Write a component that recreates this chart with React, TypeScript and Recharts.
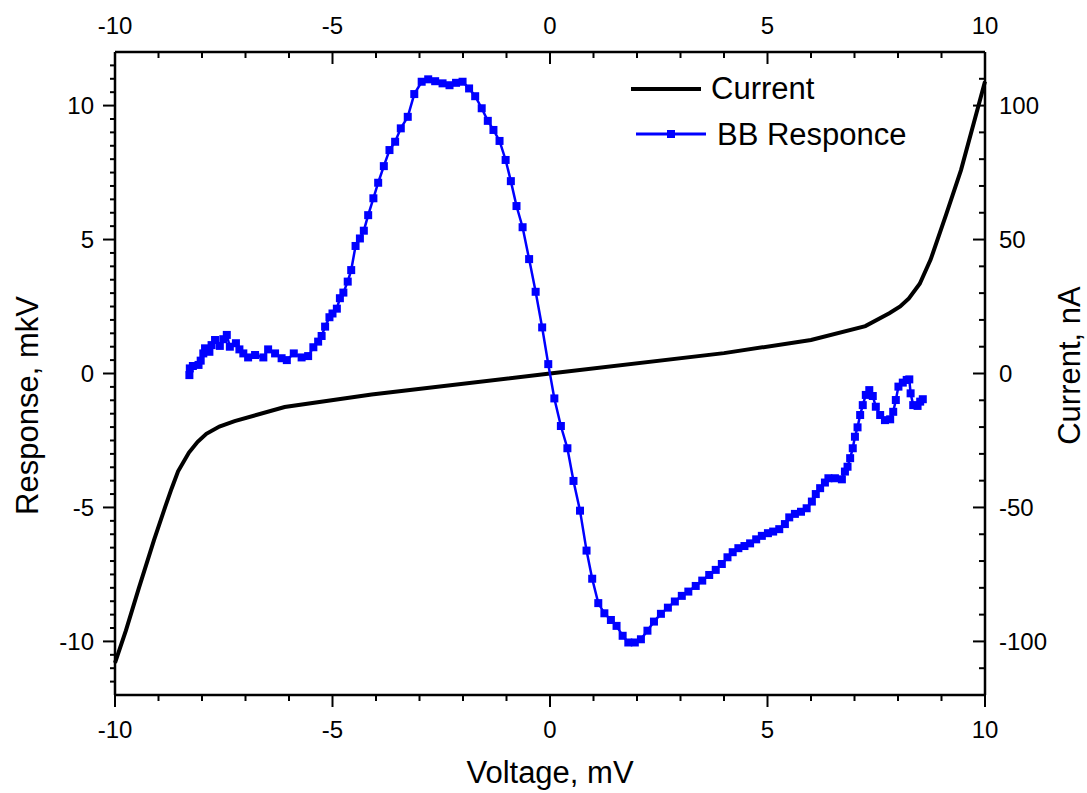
import React from 'react';
import { LineChart, Line, XAxis, YAxis, Legend } from 'recharts';

const FONT = '"Liberation Sans", Arial, Helvetica, sans-serif';
const BLUE = '#0000ff';

// Current (right axis, nA) vs voltage
const currentVoltage = [-10, -9.75, -9.45, -9.1, -8.85, -8.7, -8.55, -8.3, -8.1, -7.9, -7.6, -7.25, -6.1, -4.1, 0, 4.0, 6.0, 7.25, 7.8, 8.05, 8.25, 8.5, 8.75, 9.1, 9.45, 9.75, 10];
const currentValues = [-108, -96, -80, -62, -50, -43, -36.5, -29.5, -25.5, -22.5, -19.8, -17.8, -12.5, -7.8, 0, 7.6, 12.5, 17.7, 22.5, 25, 28, 33.5, 42.5, 59, 76, 94, 109];

// BB response (left axis, mkV) vs voltage
const responseVoltage = [
  -8.29, -8.28, -8.21, -8.08, -8.03, -7.97, -7.93, -7.83, -7.78, -7.7, -7.59, -7.51, -7.43, -7.36, -7.22, -7.14,
  -7.05, -6.94, -6.78, -6.59, -6.48, -6.32, -6.17, -6.05, -5.89, -5.71, -5.56, -5.44, -5.33, -5.25, -5.17, -5.07,
  -5.0, -4.9, -4.83, -4.75, -4.65, -4.57, -4.47, -4.37, -4.28, -4.18, -4.06, -3.95, -3.82, -3.69, -3.56, -3.43,
  -3.27, -3.12, -2.95, -2.8, -2.64, -2.47, -2.31, -2.16, -2.01, -1.86, -1.72, -1.57, -1.43, -1.3, -1.16, -1.02,
  -0.9, -0.77, -0.63, -0.48, -0.33, -0.18, -0.04, 0.1, 0.25, 0.4, 0.54, 0.69, 0.84, 0.97, 1.11, 1.25,
  1.4, 1.53, 1.67, 1.8, 1.95, 2.09, 2.24, 2.39, 2.55, 2.71, 2.87, 3.03, 3.18, 3.35, 3.5, 3.66,
  3.81, 3.95, 4.08, 4.2, 4.33, 4.47, 4.6, 4.74, 4.87, 5.01, 5.13, 5.27, 5.4, 5.5, 5.63, 5.77,
  5.9, 6.02, 6.11, 6.21, 6.32, 6.4, 6.55, 6.71, 6.78, 6.84, 6.9, 6.96, 7.01, 7.07, 7.13, 7.19,
  7.26, 7.34, 7.42, 7.49, 7.59, 7.7, 7.82, 7.89, 7.95, 8.01, 8.11, 8.2, 8.26, 8.29, 8.35, 8.45,
  8.51, 8.57,
];
const responseValues = [
  -0.06, 0.19, 0.28, 0.32, 0.48, 0.75, 0.94, 0.81, 1.06, 1.25, 1.03, 1.28, 1.44, 1.0, 1.13, 0.9,
  0.75, 0.6, 0.69, 0.6, 0.9, 0.75, 0.57, 0.5, 0.75, 0.6, 0.65, 0.98, 1.19, 1.4, 1.75, 2.1,
  2.24, 2.42, 2.81, 3.02, 3.43, 3.86, 4.76, 5.04, 5.33, 5.91, 6.54, 7.12, 7.74, 8.34, 8.65, 9.15,
  9.58, 10.43, 10.89, 10.98, 10.91, 10.83, 10.76, 10.85, 10.89, 10.64, 10.35, 9.9, 9.43, 9.09, 8.68, 7.97,
  7.18, 6.25, 5.46, 4.27, 3.05, 1.72, 0.35, -0.93, -1.96, -2.79, -4.01, -5.12, -6.61, -7.66, -8.57, -8.95,
  -9.2, -9.42, -9.79, -10.04, -10.04, -9.92, -9.6, -9.26, -8.97, -8.74, -8.51, -8.3, -8.14, -7.93, -7.73, -7.52,
  -7.33, -7.11, -6.86, -6.67, -6.52, -6.44, -6.34, -6.19, -6.06, -5.96, -5.9, -5.81, -5.62, -5.37, -5.24, -5.16,
  -5.03, -4.78, -4.5, -4.28, -4.07, -3.91, -3.91, -3.95, -3.66, -3.48, -3.16, -2.79, -2.36, -2.01, -1.55, -1.18,
  -0.8, -0.62, -0.84, -1.24, -1.55, -1.74, -1.71, -1.43, -0.99, -0.49, -0.34, -0.24, -0.22, -0.74, -1.18, -1.21,
  -1.05, -0.96,
];

// labelled (major) ticks
const voltageLabels = [-10, -5, 0, 5, 10];
const responseLabels = [-10, -5, 0, 5, 10];
const currentLabels = [-100, -50, 0, 50, 100];

const steps = (from: number, to: number, step: number) => {
  const out: number[] = [];
  for (let v = from; v <= to + 1e-9; v += step) out.push(Math.round(v * 100) / 100);
  return out;
};

const voltageTicks = steps(-10, 10, 1);
const responseTicks = steps(-11.5, 11.5, 0.5);
const currentTicks = steps(-110, 110, 10);

const currentData = currentVoltage.map((v, i) => ({ v, i: currentValues[i] }));
const responseData = responseVoltage.map((v, i) => ({ v, r: responseValues[i] }));

type Side = 'top' | 'bottom' | 'left' | 'right';

function makeTick(side: Side, labels: number[]) {
  return (props: any) => {
    const { x, y, payload } = props;
    const val = payload.value;
    const major = labels.some((t) => Math.abs(t - val) < 1e-6);
    const len = major ? 12 : 6;
    const txt = { fontFamily: FONT, fontSize: 24, fill: '#000' };
    let tick: React.ReactNode;
    let label: React.ReactNode = null;
    if (side === 'bottom') {
      tick = <line x1={x} x2={x} y1={y} y2={y + len} stroke="#000" strokeWidth={2} />;
      if (major) label = <text x={x} y={y + 43} textAnchor="middle" {...txt}>{val}</text>;
    } else if (side === 'top') {
      tick = <line x1={x} x2={x} y1={y} y2={y + len} stroke="#000" strokeWidth={2} />;
      if (major) label = <text x={x} y={y - 18} textAnchor="middle" {...txt}>{val}</text>;
    } else if (side === 'left') {
      tick = <line x1={x - (major ? 12 : 5)} x2={x} y1={y} y2={y} stroke="#000" strokeWidth={2} />;
      if (major) label = <text x={x - 21} y={y + 8.5} textAnchor="end" {...txt}>{val}</text>;
    } else {
      tick = <line x1={x - len} x2={x} y1={y} y2={y} stroke="#000" strokeWidth={2} />;
      if (major) label = <text x={x + 14} y={y + 8.5} textAnchor="start" {...txt}>{val}</text>;
    }
    return (
      <g>
        {tick}
        {label}
      </g>
    );
  };
}

const renderSquare = (props: any) => {
  const { cx, cy, index } = props;
  return <rect key={`sq-${index}`} x={cx - 4} y={cy - 4} width={8} height={8} fill={BLUE} />;
};

const renderLegend = () => (
  <svg width={340} height={100} style={{ display: 'block' }}>
    <line x1={31} x2={101} y1={29} y2={29} stroke="#000" strokeWidth={4} />
    <text x={111} y={39} fontFamily={FONT} fontSize={31} fill="#000">Current</text>
    <line x1={36} x2={106} y1={74} y2={74} stroke={BLUE} strokeWidth={3} />
    <rect x={67} y={70} width={8} height={8} fill={BLUE} />
    <text x={117} y={85} fontFamily={FONT} fontSize={31} fill="#000">BB Responce</text>
  </svg>
);

export default function App() {
  const titleStyle = { fontFamily: FONT, fontSize: 31, fill: '#000' };
  return (
    <div style={{ position: 'absolute', left: 0, top: 0, background: '#fff' }}>
      <LineChart width={1087} height={793} margin={{ top: 0, right: 0, bottom: 0, left: 0 }}>
        <XAxis
          xAxisId="bottom"
          dataKey="v"
          type="number"
          domain={[-10, 10]}
          ticks={voltageTicks}
          interval={0}
          height={98}
          tickSize={0}
          tickMargin={0}
          tickLine={false}
          axisLine={{ stroke: '#000', strokeWidth: 2.5 }}
          tick={makeTick('bottom', voltageLabels)}
          label={{ value: 'Voltage, mV', position: 'center', dy: 28, ...titleStyle }}
        />
        <XAxis
          xAxisId="top"
          dataKey="v"
          orientation="top"
          type="number"
          domain={[-10, 10]}
          ticks={voltageTicks}
          interval={0}
          height={52}
          tickSize={0}
          tickMargin={0}
          tickLine={false}
          axisLine={{ stroke: '#000', strokeWidth: 2.5 }}
          tick={makeTick('top', voltageLabels)}
        />
        <YAxis
          yAxisId="left"
          type="number"
          domain={[-12, 12]}
          ticks={responseTicks}
          interval={0}
          width={115}
          tickSize={0}
          tickMargin={0}
          tickLine={false}
          axisLine={{ stroke: '#000', strokeWidth: 2.5 }}
          tick={makeTick('left', responseLabels)}
          label={{ value: 'Response, mkV', angle: -90, position: 'center', dx: -31, dy: 32, ...titleStyle }}
        />
        <YAxis
          yAxisId="right"
          orientation="right"
          type="number"
          domain={[-120, 120]}
          ticks={currentTicks}
          interval={0}
          width={102}
          tickSize={0}
          tickMargin={0}
          tickLine={false}
          axisLine={{ stroke: '#000', strokeWidth: 2.5 }}
          tick={makeTick('right', currentLabels)}
          label={{ value: 'Current, nA', angle: -90, position: 'center', dx: 33, dy: -8, ...titleStyle }}
        />
        <Line
          xAxisId="top"
          yAxisId="right"
          data={currentData}
          dataKey="i"
          name="Current"
          type="linear"
          stroke="#000"
          strokeWidth={4}
          dot={false}
          isAnimationActive={false}
        />
        <Line
          xAxisId="bottom"
          yAxisId="left"
          data={responseData}
          dataKey="r"
          name="BB Responce"
          type="linear"
          stroke={BLUE}
          strokeWidth={2.5}
          dot={renderSquare}
          isAnimationActive={false}
        />
        <Legend
          layout="vertical"
          align="center"
          verticalAlign="middle"
          content={renderLegend}
          wrapperStyle={{ left: 600, top: 60, width: 340, height: 100 }}
        />
      </LineChart>
    </div>
  );
}
